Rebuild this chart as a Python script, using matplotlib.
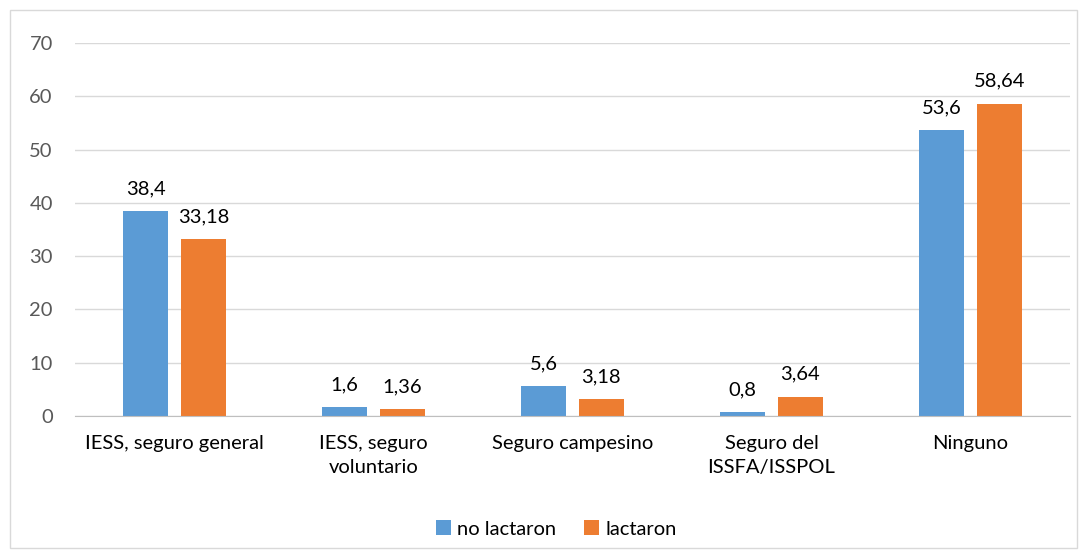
import matplotlib
matplotlib.use("Agg")
import matplotlib.pyplot as plt
import numpy as np

categories = ["IESS, seguro general", "IESS, seguro\nvoluntario", "Seguro campesino",
              "Seguro del\nISSFA/ISSPOL", "Ninguno"]
no_lactaron = [38.4, 1.6, 5.6, 0.8, 53.6]
lactaron = [33.18, 1.36, 3.18, 3.64, 58.64]
no_lactaron_labels = ["38,4", "1,6", "5,6", "0,8", "53,6"]
lactaron_labels = ["33,18", "1,36", "3,18", "3,64", "58,64"]
series_names = ["no lactaron", "lactaron"]
yticks = [0, 10, 20, 30, 40, 50, 60, 70]

plt.rcParams['font.family'] = ['Lato', 'DejaVu Sans']

fig = plt.figure(figsize=(10.82, 5.58), dpi=100)
# outer border
fig.patches.append(plt.Rectangle((10/1082, 10/558), 1067/1082, 538/558, transform=fig.transFigure,
                                 fill=False, edgecolor="#D9D9D9", linewidth=1))

ax = fig.add_axes([75/1082, 1-416/558, (1070-75)/1082, (416-43)/558])
x = np.arange(len(categories))
w = 0.226
off = 0.145
b1 = ax.bar(x - off, no_lactaron, w, color="#5B9BD5", label=series_names[0], zorder=3)
b2 = ax.bar(x + off, lactaron, w, color="#ED7D31", label=series_names[1], zorder=3)

for rect, lab in zip(b1, no_lactaron_labels):
    ax.text(rect.get_x() + rect.get_width()/2, rect.get_height() + 2.6, lab,
            ha="center", va="bottom", fontsize=14.5, color="#000000")
for rect, lab in zip(b2, lactaron_labels):
    ax.text(rect.get_x() + rect.get_width()/2, rect.get_height() + 2.6, lab,
            ha="center", va="bottom", fontsize=14.5, color="#000000")

ax.set_xlim(-0.5, len(categories) - 0.5)
ax.set_ylim(0, 70)
ax.set_yticks(yticks)
ax.set_yticklabels([str(t) for t in yticks], fontsize=14.5, color="#595959")
ax.set_xticks(x)
ax.set_xticklabels(categories, fontsize=14.5, color="#000000", va="top", linespacing=1.5)
ax.tick_params(axis="both", length=0)
ax.tick_params(axis="y", pad=16)
ax.tick_params(axis="x", pad=14)
ax.grid(axis="y", color="#D9D9D9", linewidth=1, zorder=0)
for s in ["top", "right", "left"]:
    ax.spines[s].set_visible(False)
ax.spines["bottom"].set_color("#BFBFBF")
ax.spines["bottom"].set_zorder(4)

fig.legend(handles=[b1, b2], labels=series_names, loc="center", bbox_to_anchor=(556/1082, 1-529/558),
           ncol=2, frameon=False, fontsize=14.5, handlelength=0.75, handleheight=0.75,
           handletextpad=0.3, columnspacing=1.4)

fig.savefig("out.png", dpi=100)
